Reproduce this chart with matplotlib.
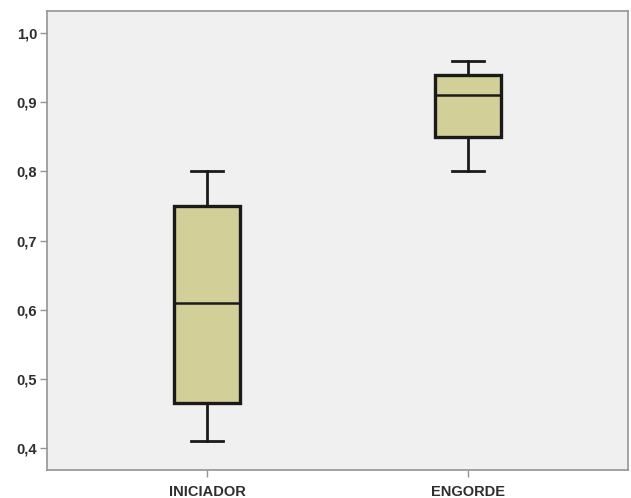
import matplotlib
matplotlib.use("Agg")
import matplotlib.pyplot as plt

# =========================================
# DATA
# =========================================
categories = ["INICIADOR", "ENGORDE"]
whisker_low = [0.41, 0.80]
q1 = [0.465, 0.85]
median = [0.61, 0.91]
q3 = [0.75, 0.94]
whisker_high = [0.80, 0.96]

y_ticks = [0.4, 0.5, 0.6, 0.7, 0.8, 0.9, 1.0]

# =========================================
# STYLE
# =========================================
plt.rcParams['font.family'] = ['Liberation Sans', 'DejaVu Sans']
box_color = "#d3cf99"
bg_color = "#f0f0f0"
text_color = "#2e2e2e"

stats = []
for i, name in enumerate(categories):
    stats.append({
        "label": name,
        "whislo": whisker_low[i],
        "q1": q1[i],
        "med": median[i],
        "q3": q3[i],
        "whishi": whisker_high[i],
        "fliers": [],
    })

fig = plt.figure(figsize=(6.31, 4.98), dpi=100)
ax = fig.add_axes([47 / 631, 1 - 470 / 498, 581 / 631, 459 / 498])
ax.set_facecolor(bg_color)

ax.bxp(
    stats,
    positions=[1, 2],
    widths=0.253,
    patch_artist=True,
    showfliers=False,
    boxprops=dict(facecolor=box_color, edgecolor="#1a1a1a", linewidth=2.4),
    medianprops=dict(color="#1a1a1a", linewidth=1.8),
    whiskerprops=dict(color="#1a1a1a", linewidth=2.0),
    capprops=dict(color="#1a1a1a", linewidth=2.0),
    capwidths=0.125,
)

ax.set_xlim(0.387, 2.613)
ax.set_ylim(0.368, 1.032)

ax.set_yticks(y_ticks)
ax.set_yticklabels([f"{v:.1f}".replace(".", ",") for v in y_ticks])
ax.set_xticks([1, 2])
ax.set_xticklabels(categories)

for s in ax.spines.values():
    s.set_color("#949494")
    s.set_linewidth(1.2)

ax.tick_params(axis="both", colors="#949494", length=5, width=1.0,
               labelcolor=text_color, labelsize=10.5)
ax.tick_params(axis="y", pad=2)
ax.tick_params(axis="x", pad=6)
for lab in ax.get_xticklabels() + ax.get_yticklabels():
    lab.set_fontweight("bold")

fig.savefig("out.png", dpi=100)
